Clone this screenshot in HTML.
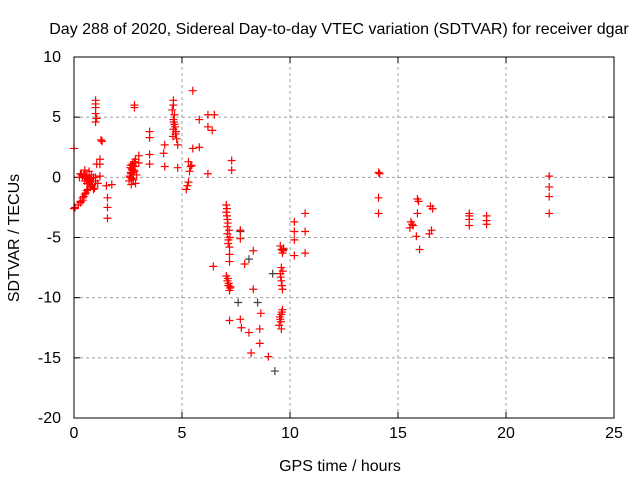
<!DOCTYPE html>
<html><head><meta charset="utf-8"><style>
html,body{margin:0;padding:0;background:#fff}
svg{display:block}
text{font-family:"Liberation Sans",sans-serif;font-size:16px;fill:#000}
</style></head><body>
<svg id="chart" width="640" height="480">
<text x="339" y="34" text-anchor="middle">Day 288 of 2020, Sidereal Day-to-day VTEC variation (SDTVAR) for receiver dgar</text>
<text x="340" y="471" text-anchor="middle">GPS time / hours</text>
<text transform="translate(19,238) rotate(-90)" text-anchor="middle">SDTVAR / TECUs</text>
<g id="grid"></g><g id="ticks"></g><g id="pts"></g>
<rect x="74" y="57" width="540" height="361" fill="none" stroke="#000" stroke-width="1"/>
</svg>
<script>
const xTicks=[0,5,10,15,20,25];
const yTicks=[10,5,0,-5,-10,-15,-20];
const redX=[0,0,0.05,0.2,0.3,0.4,0.5,0.6,0.3,0.4,0.5,0.6,0.7,0.8,0.9,1.0,0.9,1.1,0.8,0.7,0.5,0.35,0.25,0.6,0.7,
0.45,0.55,0.65,0.75,0.85,0.95,0.3,0.4,0.6,0.8,1.0,0.45,0.55,0.65,0.75,
1.0,1.0,1.0,1.0,1.05,1.0,1.05,1.2,1.25,1.3,1.2,1.2,1.5,1.55,1.55,1.55,1.75,2.8,2.8,
2.55,2.6,2.65,2.7,2.75,2.8,2.85,2.6,2.7,2.8,2.9,2.65,2.75,2.85,3.0,3.0,3.5,3.5,3.5,3.5,4.2,4.15,4.2,
2.58,2.63,2.68,2.73,2.78,2.62,2.72,2.82,2.67,2.77,
4.6,4.6,4.65,4.6,4.65,4.6,4.7,4.75,4.8,4.8,4.55,4.62,4.68,4.72,4.58,
5.5,5.3,5.35,5.25,5.2,5.5,5.8,5.8,6.2,6.5,6.2,6.4,6.2,6.45,5.4,5.45,5.3,
7.05,7.05,7.1,7.1,7.1,7.15,7.2,7.2,7.2,7.3,7.3,7.05,7.1,7.15,7.2,7.25,7.2,7.7,7.7,7.7,7.75,7.9,8.1,8.2,8.3,8.3,8.6,8.6,8.65,9.0,
7.08,7.12,7.18,7.22,7.12,7.16,7.22,7.08,7.14,
9.55,9.6,9.65,9.7,9.6,9.55,9.6,9.65,9.5,9.55,9.6,9.65,9.6,10.2,10.2,10.2,10.2,10.7,10.7,10.7,
9.52,9.58,9.62,9.68,9.57,9.63,9.67,
14.1,14.15,14.1,14.1,15.6,15.65,15.55,15.7,15.9,15.95,15.9,15.85,16.0,16.5,16.6,16.55,16.45,18.3,18.3,18.3,18.3,19.1,19.1,19.1,
22.0,22.0,22.0,22.0];
const redY=[2.4,-2.6,-2.5,-2.3,-2.0,-1.7,-1.4,-1.1,0.3,0.0,-0.3,-0.5,-0.3,-0.6,-1.0,-0.3,0.0,-0.5,0.2,0.5,0.6,0.2,0.0,-0.1,-0.2,
-1.6,-1.3,-1.0,-0.8,-0.7,-0.9,-2.1,-1.9,0.1,-0.1,0.0,0.2,0.1,-0.2,-0.4,
6.4,6.1,5.8,5.3,4.9,4.6,1.1,1.1,3.1,3.0,1.5,0.1,-0.7,-1.7,-2.5,-3.4,-0.6,6.0,5.8,
-0.3,0.0,0.3,0.6,0.9,1.2,1.5,0.8,1.1,0.5,0.2,-0.6,-0.2,-0.5,1.8,1.2,3.8,3.3,1.9,1.1,2.7,2.0,0.9,
0.1,0.4,0.7,1.0,1.3,1.0,0.4,0.9,-0.1,0.6,
6.4,6.0,5.2,4.8,4.4,4.0,3.6,3.2,2.7,0.8,5.6,4.6,4.2,3.8,3.4,
7.2,1.3,0.5,-0.7,-1.0,2.4,2.5,4.8,5.2,5.2,4.2,3.9,0.3,-7.4,0.9,1.0,-0.4,
-2.3,-2.9,-3.5,-4.1,-4.7,-5.2,-5.8,-6.4,-7.0,1.4,0.6,-8.2,-8.6,-9.0,-9.4,-9.1,-11.9,-4.4,-5.1,-11.8,-12.5,-7.2,-12.9,-14.6,-9.3,-6.1,-13.8,-12.6,-11.3,-14.9,
-3.2,-3.8,-4.4,-5.0,-8.4,-8.8,-9.2,-2.6,-5.5,
-5.7,-6.0,-6.3,-5.9,-7.5,-8.0,-8.6,-9.3,-12.3,-11.8,-11.4,-11.0,-12.6,-3.7,-4.5,-5.2,-6.5,-3.0,-4.5,-6.3,
-11.6,-12.0,-11.2,-6.1,-8.3,-9.0,-7.8,
0.4,0.3,-1.7,-3.0,-3.7,-3.9,-4.2,-4.0,-1.8,-2.0,-3.0,-4.9,-6.0,-2.4,-2.6,-4.4,-4.7,-3.0,-3.2,-3.5,-4.0,-3.2,-3.6,-3.9,
0.1,-0.8,-1.6,-3.0];
const darkX=[7.7,8.5,8.1,9.2,9.3,9.7,7.6];
const darkY=[-4.5,-10.4,-6.8,-8.0,-16.1,-6.0,-10.4];
const X0=74,X1=614,Y0=418,Y1=57;
const sx=v=>X0+(v-0)/(25-0)*(X1-X0);
const sy=v=>Y0-(v-(-20))/(30)*(Y0-Y1);
const NS='http://www.w3.org/2000/svg';
const grid=document.getElementById('grid'),ticks=document.getElementById('ticks'),pts=document.getElementById('pts');
function mk(tag,attrs,parent){const e=document.createElementNS(NS,tag);for(const k in attrs)e.setAttribute(k,attrs[k]);parent.appendChild(e);return e;}
xTicks.forEach(t=>{const x=sx(t);
 if(t>0&&t<25){const g=mk('line',{x1:x,x2:x,y1:Y0,y2:Y1,stroke:'#a0a0a0','stroke-dasharray':'3,3'},grid);
 
 }
 mk('line',{x1:x,x2:x,y1:Y0,y2:Y0-6,stroke:'#000'},ticks);mk('line',{x1:x,x2:x,y1:Y1,y2:Y1+6,stroke:'#000'},ticks);
 const l=mk('text',{x:x,y:Y0+20,'text-anchor':'middle'},ticks);l.textContent=t;
 
 });
yTicks.forEach(t=>{const y=sy(t);
 if(t>-20&&t<10){const g=mk('line',{x1:X0,x2:X1,y1:y,y2:y,stroke:'#a0a0a0','stroke-dasharray':'3,3'},grid);
 
 }
 mk('line',{x1:X0,x2:X0+6,y1:y,y2:y,stroke:'#000'},ticks);mk('line',{x1:X1,x2:X1-6,y1:y,y2:y,stroke:'#000'},ticks);
 const l=mk('text',{x:X0-13,y:y+5,'text-anchor':'end'},ticks);l.textContent=t;
 
 });
function plus(x,y,c,name){const p=mk('path',{d:`M${x-4},${y}h8M${x},${y-4}v8`,stroke:c,'stroke-width':1.2},pts);
 
 }
darkX.forEach((v,i)=>plus(sx(v),sy(darkY[i]),'#404040','dark-point'));
redX.forEach((v,i)=>plus(sx(v),sy(redY[i]),'#ff0000','sdtvar-point'));
</script>
</body></html>
